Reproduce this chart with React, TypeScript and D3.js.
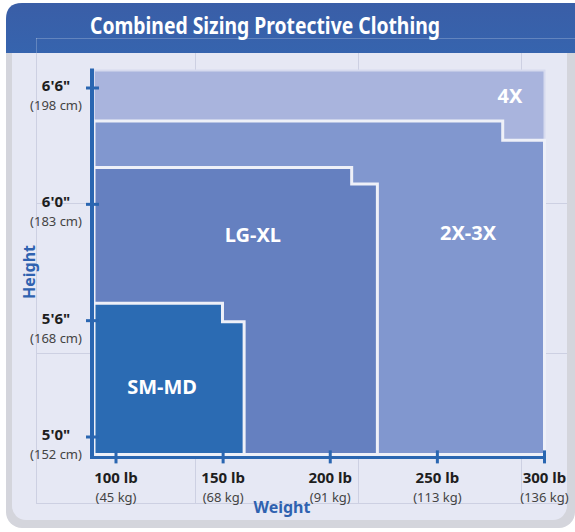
import React from 'react';
import * as d3 from 'd3';

// size regions: each step = [weight (lb) up to which the region reaches, height (in)]
const sizeNames = ['4X', '2X-3X', 'LG-XL', 'SM-MD'];
const sizeSteps: [number, number][][] = [
  [[300, 78.9]],
  [[280.5, 76.3], [300, 75.3]],
  [[210, 73.9], [222, 73.05]],
  [[149.7, 66.9], [159.8, 65.95]],
];
const sizeColors = ['#a9b4dd', '#8197cf', '#6580c0', '#2b6bb3'];
// label anchor points in data units [lb, in]
const sizeLabelPos: [number, number][] = [
  [283.9, 77.6],
  [264.3, 70.5],
  [163.9, 70.4],
  [121.5, 62.6],
];

const heightTicks = [60, 66, 72, 78];
const heightLabels = ['5\'0"', '5\'6"', '6\'0"', '6\'6"'];
const heightCm = ['(152 cm)', '(168 cm)', '(183 cm)', '(198 cm)'];

const weightTicks = [100, 150, 200, 250, 300];
const weightLabels = ['100 lb', '150 lb', '200 lb', '250 lb', '300 lb'];
const weightKg = ['(45 kg)', '(68 kg)', '(91 kg)', '(113 kg)', '(136 kg)'];

const minW = 88.8;
const minH = 59;
const maxH = 79;

const font = '"Noto Sans", "Open Sans", sans-serif';

export default function App() {
  const x = d3.scaleLinear().domain([100, 300]).range([116, 544.5]);
  const y = d3.scaleLinear().domain([60, 78]).range([437, 88]);

  const regionPath = (steps: [number, number][]) => {
    const p = d3.path();
    p.moveTo(x(minW) + 2, y(minH) - 2);
    p.lineTo(x(minW) + 2, y(steps[0][1]));
    steps.forEach((s, i) => {
      p.lineTo(x(s[0]), y(s[1]));
      if (i < steps.length - 1) p.lineTo(x(s[0]), y(steps[i + 1][1]));
    });
    p.lineTo(x(steps[steps.length - 1][0]), y(minH) - 2);
    p.closePath();
    return p.toString();
  };

  const gridX = [36, 195, 358, 521];
  const gridY = [203, 353, 503];

  return (
    <svg width={575} height={532} style={{ position: 'absolute', left: 0, top: 0 }}>
      <defs>
        <linearGradient id="hdr" x1="0" y1="0" x2="0" y2="1">
          <stop offset="0" stopColor="#3a5ea7" />
          <stop offset="1" stopColor="#3664ae" />
        </linearGradient>
      </defs>
      <rect x={0} y={0} width={575} height={532} fill="#ffffff" />
      {/* panel */}
      <rect x={6} y={3} width={569} height={525} rx={16} fill="#d4d5dc" />
      <rect x={12} y={10} width={555} height={510} rx={14} fill="#e6e8f4" />
      <path d="M6,53 L6,19 Q6,3 22,3 L575,3 L575,53 Z" fill="url(#hdr)" />
      {/* faint background grid */}
      <g stroke="#cdd0e2" strokeWidth={1}>
        {gridX.map((gx) => (
          <line key={'gx' + gx} x1={gx + 0.5} x2={gx + 0.5} y1={53} y2={503} />
        ))}
        {gridY.map((gy) => (
          <line key={'gy' + gy} x1={36} x2={567} y1={gy + 0.5} y2={gy + 0.5} />
        ))}
      </g>
      <g stroke="rgba(255,255,255,0.22)" strokeWidth={1}>
        <line x1={36} x2={575} y1={38.5} y2={38.5} />
        <line x1={36.5} x2={36.5} y1={38} y2={53} />
      </g>
      <text
        x={265}
        y={34}
        textAnchor="middle"
        fill="#ffffff"
        fontFamily={font}
        fontWeight="bold"
        fontSize={23}
        textLength={350}
        lengthAdjust="spacingAndGlyphs"
      >
        Combined Sizing Protective Clothing
      </text>

      {/* regions */}
      {sizeSteps.map((steps, i) => (
        <path
          key={sizeNames[i]}
          d={regionPath(steps)}
          fill={sizeColors[i]}
          stroke={i === 0 ? '#d6daee' : '#eef0f8'}
          strokeWidth={i === 0 ? 2 : 3}
        />
      ))}
      {sizeNames.map((n, i) => (
        <text
          key={'l' + n}
          x={x(sizeLabelPos[i][0])}
          y={y(sizeLabelPos[i][1]) + 7}
          textAnchor="middle"
          fill="#ffffff"
          fontFamily={font}
          fontWeight="bold"
          fontSize={20}
        >
          {n}
        </text>
      ))}

      {/* axes */}
      <line x1={x(minW)} x2={x(minW)} y1={y(maxH)} y2={y(minH)} stroke="#2a66b1" strokeWidth={4} />
      <line x1={x(minW) - 2} x2={x(300) + 1} y1={y(minH) + 1} y2={y(minH) + 1} stroke="#2a66b1" strokeWidth={3} />
      {heightTicks.map((h, i) => (
        <g key={'h' + h}>
          <line x1={86} x2={99} y1={y(h)} y2={y(h)} stroke="#2a66b1" strokeWidth={3} />
          <text x={56} y={y(h) + 3} textAnchor="middle" fill="#1e1e1e" fontFamily={font} fontWeight="bold" fontSize={15}>
            {heightLabels[i]}
          </text>
          <text x={56} y={y(h) + 22} textAnchor="middle" fill="#444" fontFamily={font} fontSize={13}>
            {heightCm[i]}
          </text>
        </g>
      ))}
      {weightTicks.map((w, i) => (
        <g key={'w' + w}>
          <line x1={x(w)} x2={x(w)} y1={y(minH) - 6} y2={y(minH) + 7} stroke="#2a66b1" strokeWidth={3} />
          <text x={x(w)} y={483} textAnchor="middle" fill="#1e1e1e" fontFamily={font} fontWeight="bold" fontSize={15}>
            {weightLabels[i]}
          </text>
          <text x={x(w)} y={502} textAnchor="middle" fill="#444" fontFamily={font} fontSize={13}>
            {weightKg[i]}
          </text>
        </g>
      ))}
      <text x={282} y={513} textAnchor="middle" fill="#2f62b0" fontFamily={font} fontWeight="bold" fontSize={16}>
        Weight
      </text>
      <text
        transform="translate(35,272) rotate(-90)"
        textAnchor="middle"
        fill="#2f62b0"
        fontFamily={font}
        fontWeight="bold"
        fontSize={16}
      >
        Height
      </text>
    </svg>
  );
}
